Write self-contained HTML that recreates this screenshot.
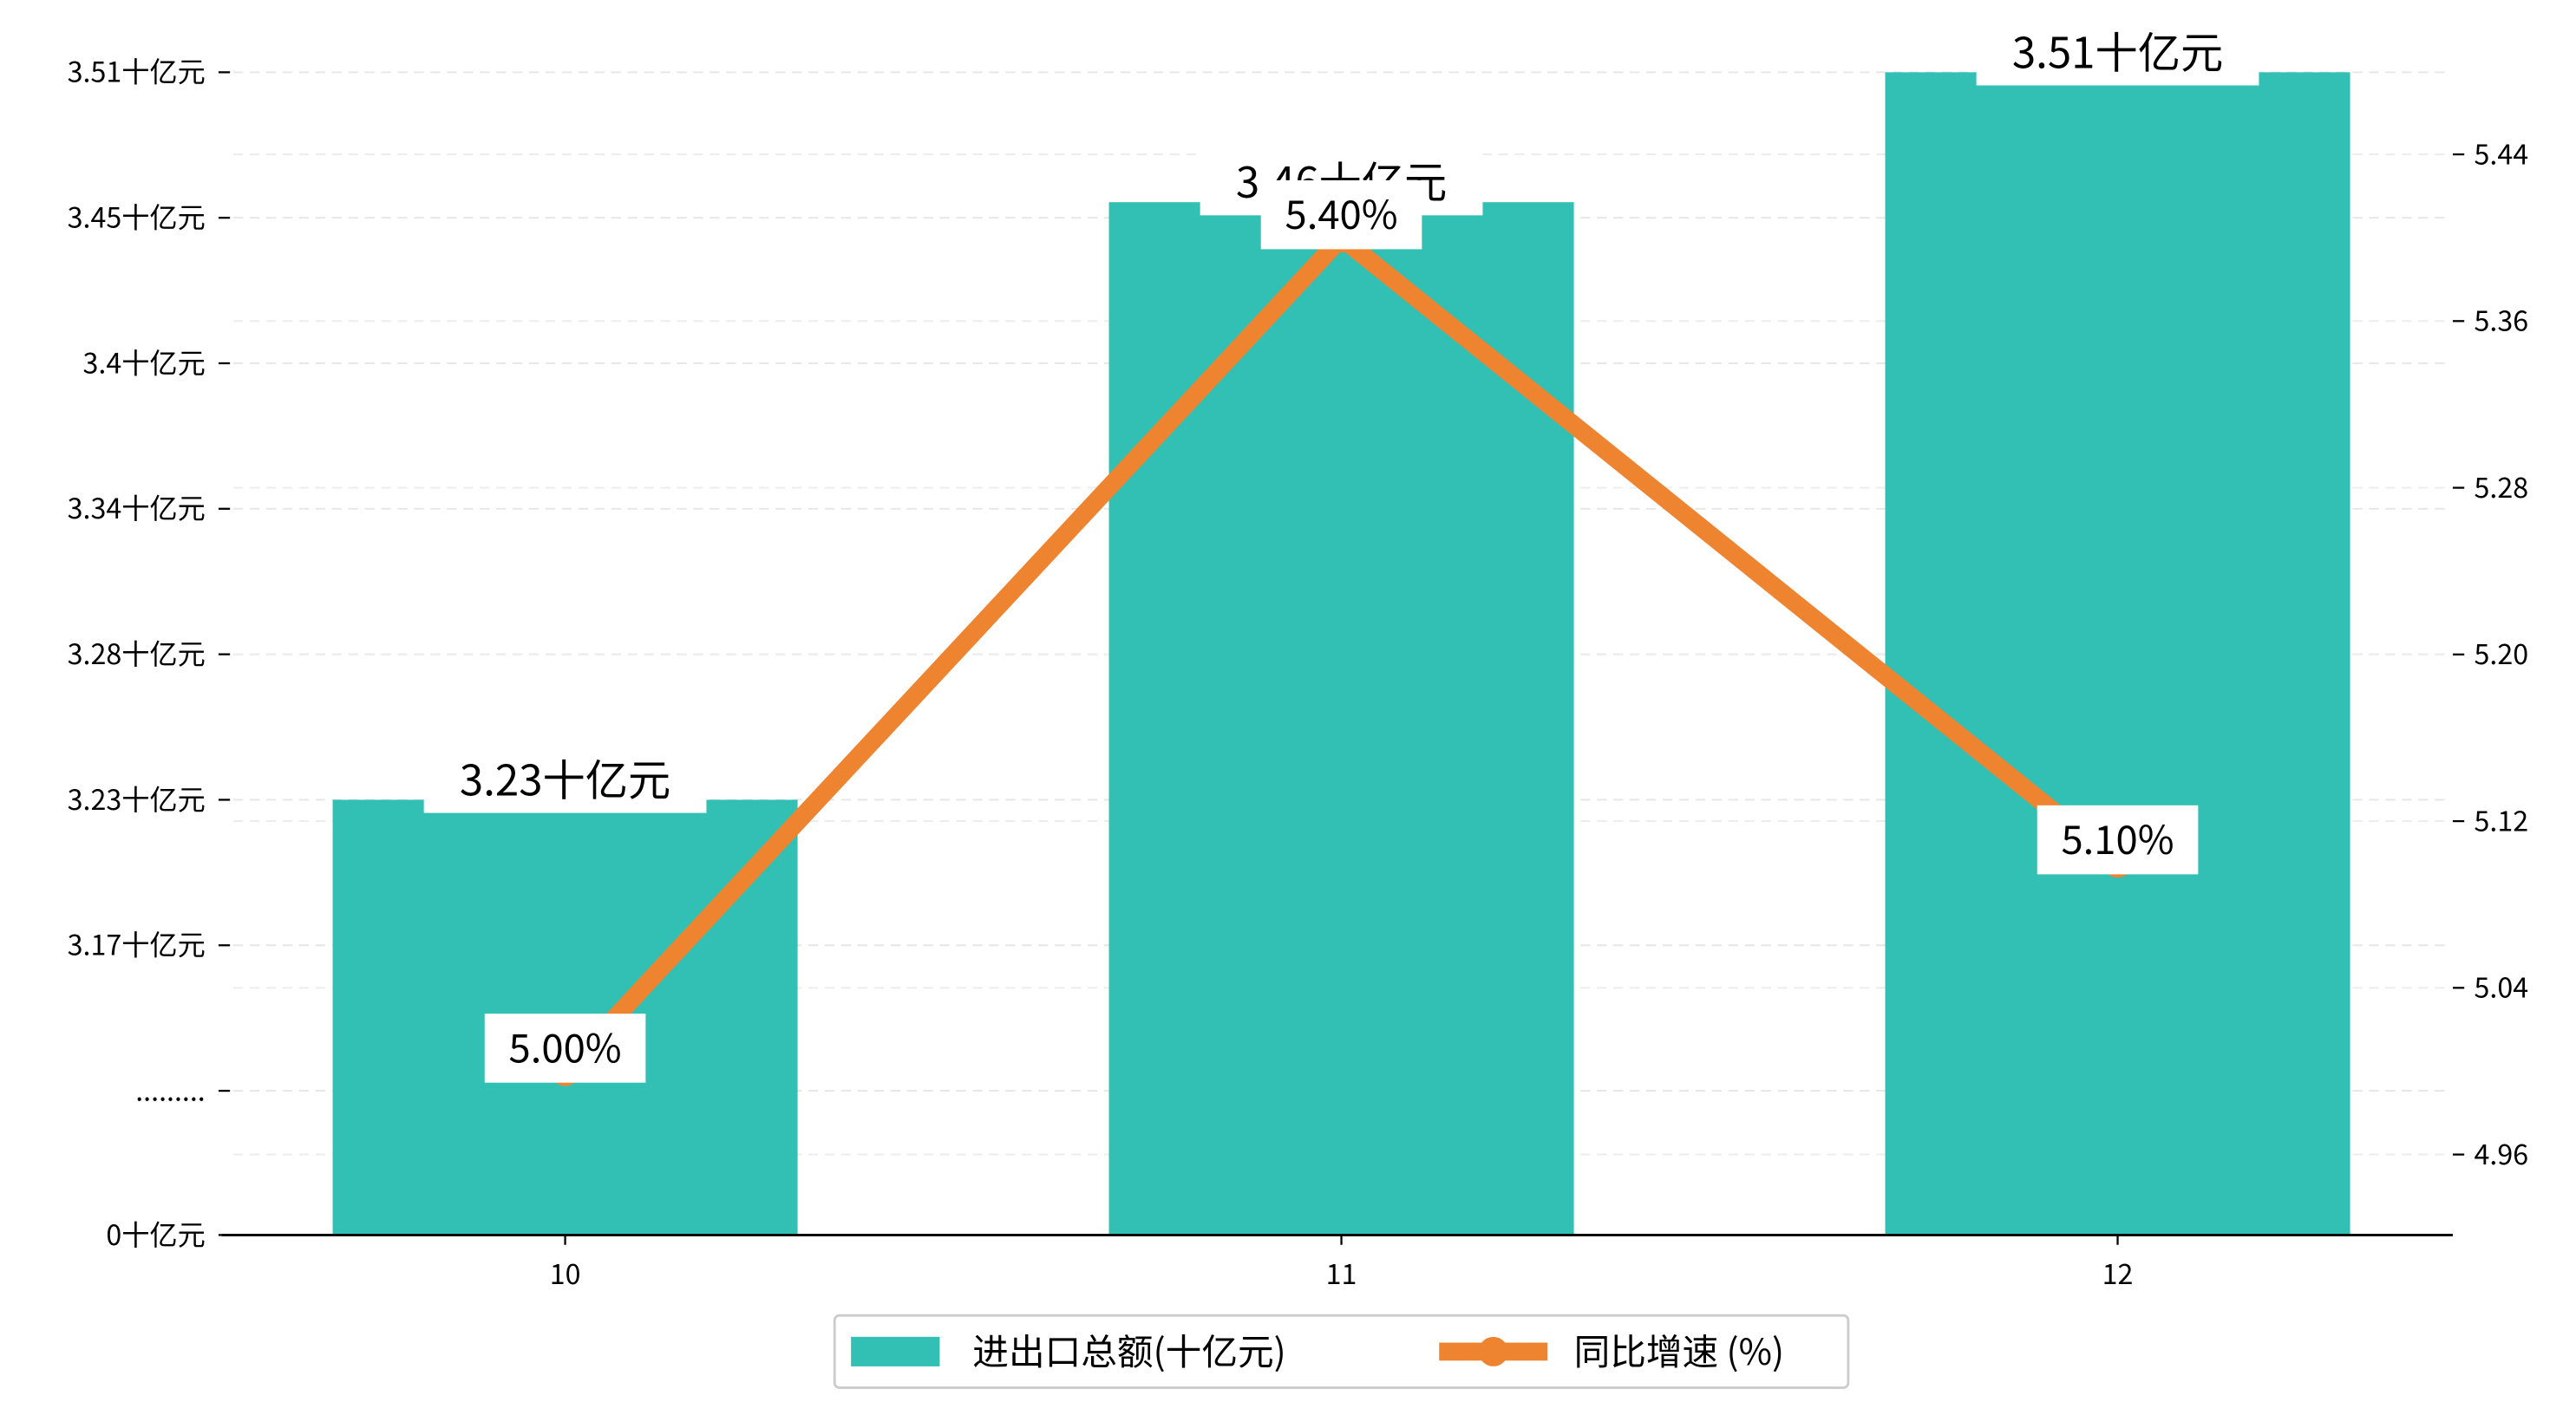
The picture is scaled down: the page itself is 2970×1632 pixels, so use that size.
<!DOCTYPE html>
<html><head><meta charset="utf-8"><style>
html,body{margin:0;padding:0;background:#fff;}
svg{display:block;font-family:"WenQuanYi Zen Hei","Noto Sans CJK SC",sans-serif;}
</style></head><body>
<svg id="chart" width="2970" height="1632" viewBox="0 0 1568 861.6" xmlns="http://www.w3.org/2000/svg"></svg>
<script>
const categories = ["10","11","12"];
const barValues = [3.23,3.46,3.51];
const barLabels = ["3.23十亿元","3.46十亿元","3.51十亿元"];
const growthValues = [5.00,5.40,5.10];
const growthLabels = ["5.00%","5.40%","5.10%"];
const leftTickValues = [3.0625,3.118,3.174,3.23,3.286,3.342,3.398,3.454,3.51];
const leftTickLabels = ["0十亿元",".........","3.17十亿元","3.23十亿元","3.28十亿元","3.34十亿元","3.4十亿元","3.45十亿元","3.51十亿元"];
const rightTickValues = [4.96,5.04,5.12,5.20,5.28,5.36,5.44];
const rightTickLabels = ["4.96","5.04","5.12","5.20","5.28","5.36","5.44"];

const NS="http://www.w3.org/2000/svg";
const svg=document.getElementById('chart');
function mk(tag,attrs,parent){const e=document.createElementNS(NS,tag);for(const k in attrs)e.setAttribute(k,attrs[k]);(parent||svg).appendChild(e);return e;}
const X0=135,X1=1493,Y0=752;
const lMin=3.0625,lMax=3.51,lTop=44;
const rMin=4.96,rMax=5.44,rBot=703,rTop=94;
function yL(v){return Y0-(v-lMin)/(lMax-lMin)*(Y0-lTop);}
function yR(v){return rBot-(v-rMin)/(rMax-rMin)*(rBot-rTop);}
const step=(X1-X0)/categories.length*1.044;
function xC(i){return 344+i*472.5;}
const barW=283;

// grids
leftTickValues.forEach((v,i)=>{
  const g=mk('line',{x1:142,x2:1490,y1:yL(v),y2:yL(v),stroke:'#e6e6e6','stroke-width':1,'stroke-dasharray':'6,4'});
  
  
});
rightTickValues.forEach((v,i)=>{
  const g=mk('line',{x1:142,x2:1490,y1:yR(v),y2:yR(v),stroke:'#ececec','stroke-width':1,'stroke-dasharray':'6,4'});
  
  
});
// bars
barValues.forEach((v,i)=>{
  const b=mk('rect',{x:xC(i)-barW/2,y:yL(v),width:barW,height:Y0-yL(v),fill:'#32c0b4'});
  
  
});
// axes
const ax=mk('line',{x1:X0,x2:X1,y1:Y0,y2:Y0,stroke:'#000','stroke-width':1.5});


leftTickValues.forEach((v,i)=>{
  const y=yL(v);
  mk('line',{x1:133,x2:140,y1:y,y2:y,stroke:'#000','stroke-width':1.2});
  const t=mk('text',{x:125,y:y+6,'text-anchor':'end','font-size':17,fill:'#000'});
  t.textContent=leftTickLabels[i];
  
  
});
rightTickValues.forEach((v,i)=>{
  const y=yR(v);
  mk('line',{x1:1493,x2:1500,y1:y,y2:y,stroke:'#000','stroke-width':1.2});
  const t=mk('text',{x:1506,y:y+6,'font-size':17,fill:'#000'});
  t.textContent=rightTickLabels[i];
  
  
});
categories.forEach((c,i)=>{
  mk('line',{x1:xC(i),x2:xC(i),y1:Y0,y2:Y0+6,stroke:'#000','stroke-width':1.2});
  const t=mk('text',{x:xC(i),y:Y0+30,'text-anchor':'middle','font-size':17,fill:'#000'});
  t.textContent=c;
  
  
});
// line
const pts=growthValues.map((v,i)=>xC(i)+','+yR(v)).join(' ');
const pl=mk('polyline',{points:pts,fill:'none',stroke:'#ee8430','stroke-width':11,'stroke-linejoin':'miter'});


growthValues.forEach((v,i)=>{
  const c=mk('circle',{cx:xC(i),cy:yR(v),r:9,fill:'#ee8430'});
  
  
});
// bar labels
function label(txt,cx,cy,w,h,fs,name){
  const r=mk('rect',{x:cx-w/2,y:cy-h/2,width:w,height:h,fill:'#fff'});
  
  
  const t=mk('text',{x:cx,y:cy+fs*0.36,'text-anchor':'middle','font-size':fs,fill:'#000'});
  t.textContent=txt;
  
  
}
barValues.forEach((v,i)=>label(barLabels[i],xC(i),yL(v)-12,172,40,26,'bar-value-label'));
growthValues.forEach((v,i)=>label(growthLabels[i],xC(i),yR(v)-14,98,42,24,'growth-value-label'));
// legend
const lg=mk('g',{});


mk('rect',{x:508,y:801,width:617,height:44,rx:3,fill:'#fff',stroke:'#cccccc','stroke-width':1.5},lg);
const p1=mk('rect',{x:518,y:814,width:54,height:18,fill:'#32c0b4'},lg);


const t1=mk('text',{x:592,y:831,'font-size':22,fill:'#000'},lg);
t1.textContent='进出口总额(十亿元)';


mk('line',{x1:876,x2:942,y1:823,y2:823,stroke:'#ee8430','stroke-width':11},lg);
mk('circle',{cx:909,cy:823,r:9,fill:'#ee8430'},lg);
const t2=mk('text',{x:958,y:831,'font-size':22,fill:'#000'},lg);
t2.textContent='同比增速 (%)';


</script>
</body></html>
